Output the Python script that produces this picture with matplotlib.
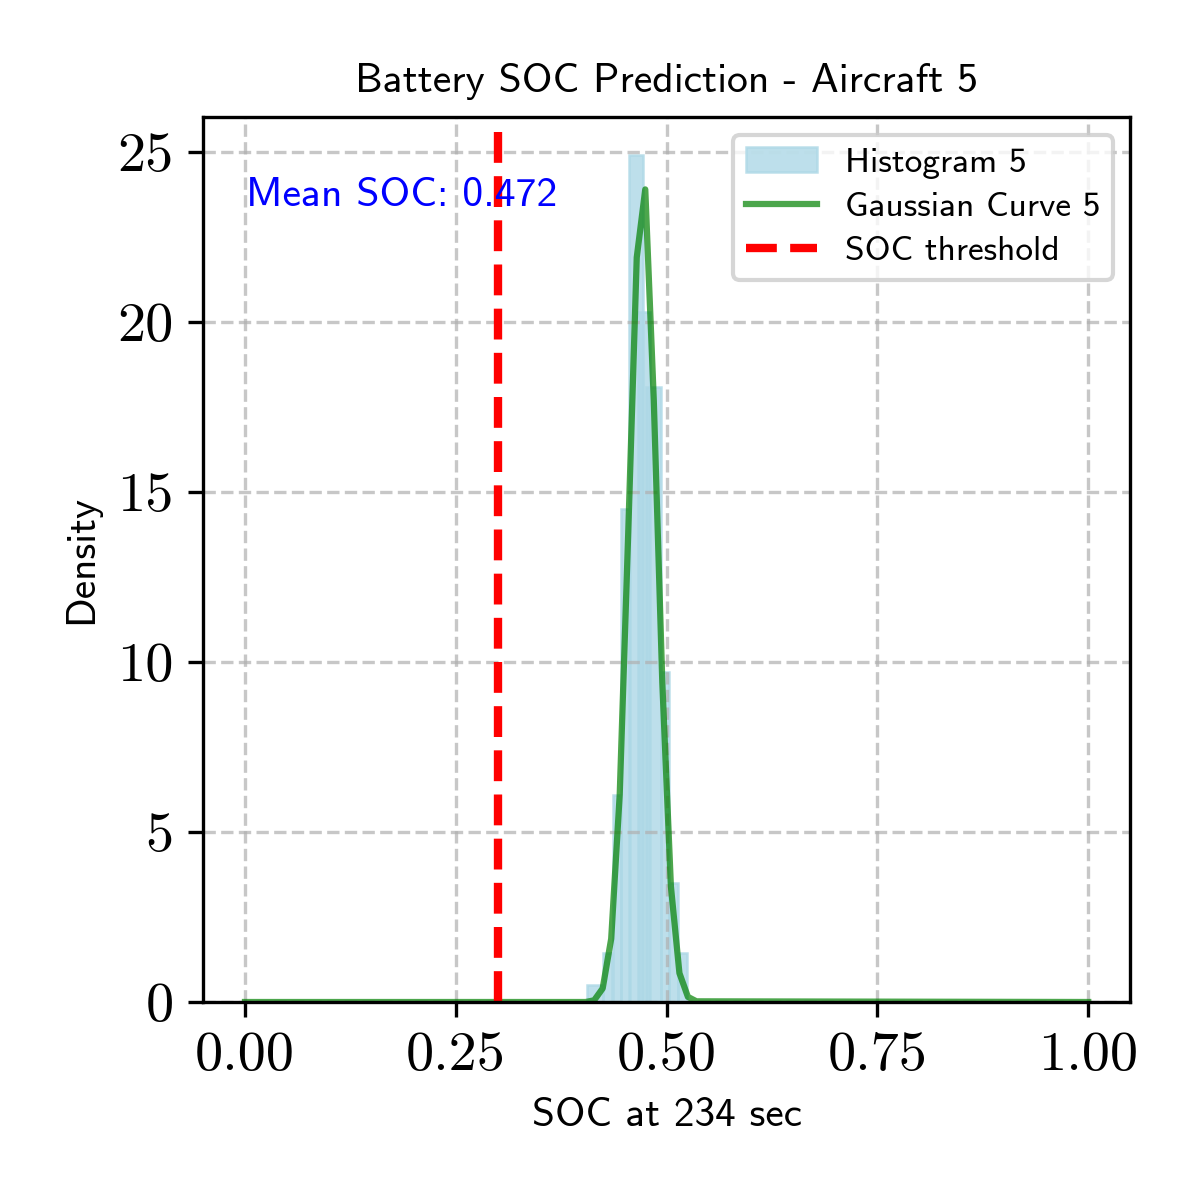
import matplotlib
matplotlib.use("Agg")
import matplotlib.pyplot as plt

# histogram bars (left edge, width, density)
bar_left = [0.406, 0.425, 0.4359, 0.4454, 0.456, 0.4656, 0.475, 0.4929, 0.5024, 0.513]
bar_width = [0.019, 0.0107, 0.0095, 0.0107, 0.0166, 0.0143, 0.0178, 0.0095, 0.0107, 0.0107]
bar_height = [0.5, 1.45, 6.1, 14.5, 24.9, 20.3, 18.1, 9.7, 3.5, 1.45]

# gaussian curve points
curve_x = [0.0, 0.404, 0.4141, 0.4242, 0.4343, 0.4444, 0.4545, 0.4646, 0.4747,
           0.4848, 0.4949, 0.5051, 0.5152, 0.5253, 0.5354, 1.0]
curve_y = [0.0, 0.0, 0.05, 0.4, 1.86, 6.1, 13.8, 21.9, 23.9,
           17.7, 9.4, 3.4, 0.85, 0.15, 0.02, 0.0]

mean_soc = 0.472
soc_threshold = 0.3
xticks = [0.0, 0.25, 0.5, 0.75, 1.0]
yticks = [0, 5, 10, 15, 20, 25]

sans = "cmss10"
serif = "cmr10"

fig, ax = plt.subplots(figsize=(4, 4), dpi=300)
fig.subplots_adjust(left=0.169, right=0.942, top=0.9025, bottom=0.165)

bars = ax.bar(bar_left, bar_height, width=bar_width, align="edge", color="lightblue",
              alpha=0.8, edgecolor="lightblue", linewidth=0.6, label="Histogram 5")
line, = ax.plot(curve_x, curve_y, color="green", alpha=0.7, linewidth=1.5, label="Gaussian Curve 5")
thr = ax.axvline(soc_threshold, color="red", linestyle="--", linewidth=2, label="SOC threshold")

ax.text(0.047, 0.9, f"Mean SOC: {mean_soc:.3f}", transform=ax.transAxes,
        color="blue", fontsize=10, fontfamily=sans)

ax.set_ylim(0, 26.03)
ax.set_xticks(xticks)
ax.set_xticklabels([f"{t:.2f}" for t in xticks], fontfamily=serif, fontsize=13.5)
ax.set_yticks(yticks)
ax.set_yticklabels([str(t) for t in yticks], fontfamily=serif, fontsize=13.5)

ax.set_title("Battery SOC Prediction - Aircraft 5", fontfamily=sans, fontsize=10)
ax.set_xlabel("SOC at 234 sec", fontfamily=sans, fontsize=9.9)
ax.set_ylabel("Density", fontfamily=sans, fontsize=9.9)
ax.grid(True, linestyle="--", alpha=0.7)

ax.legend(handles=[bars, line, thr], loc="upper right", prop={"family": sans, "size": 8.5},
          labelspacing=0.35, borderpad=0.35)

plt.savefig("out.png", dpi=300)
